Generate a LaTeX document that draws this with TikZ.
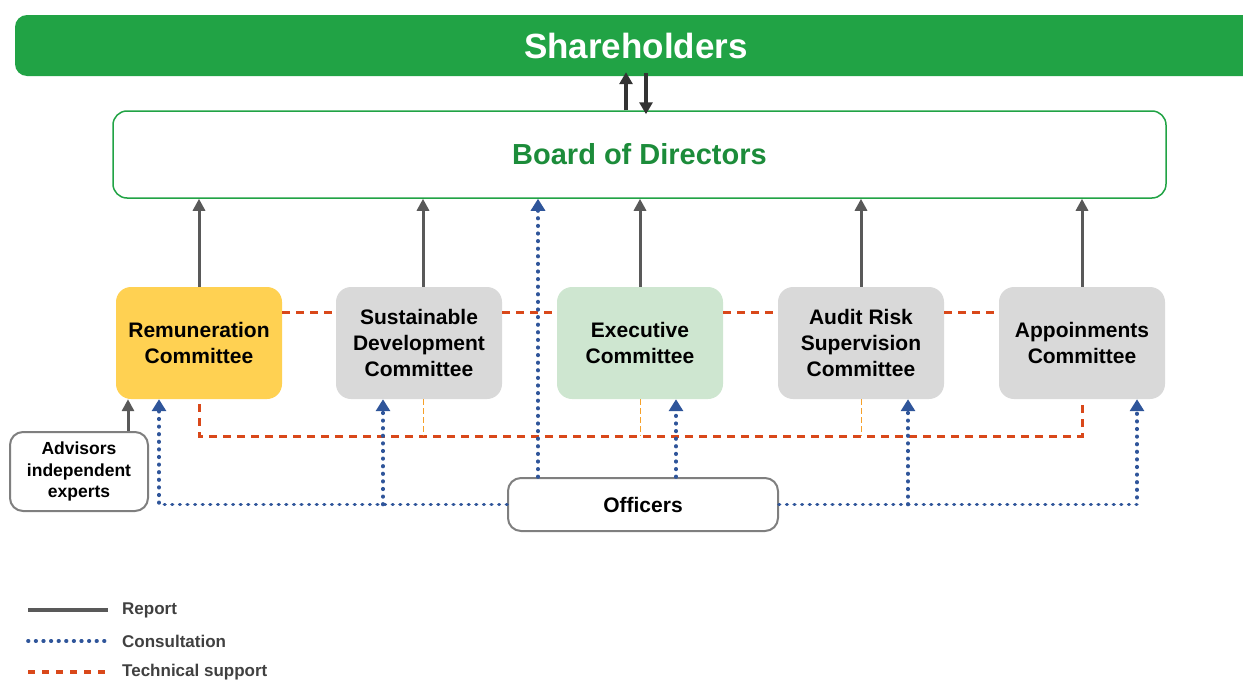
\documentclass[tikz,border=0pt]{standalone}
\usepackage{fontspec}
\setmainfont{Liberation Sans}
\usetikzlibrary{arrows.meta}

\definecolor{sharegreen}{RGB}{33,163,69}
\definecolor{boardtext}{RGB}{28,140,58}
\definecolor{remyellow}{RGB}{255,209,82}
\definecolor{commgray}{RGB}{217,217,217}
\definecolor{execgreen}{RGB}{206,230,208}
\definecolor{consultblue}{RGB}{47,85,154}
\definecolor{techorange}{RGB}{217,72,26}
\definecolor{lightorange}{RGB}{245,160,42}
\definecolor{reportgray}{RGB}{89,89,89}
\definecolor{boxgray}{RGB}{127,127,127}
\definecolor{legtext}{RGB}{64,64,64}

\begin{document}
\begin{tikzpicture}[x=1pt,y=-1pt]
    \tikzstyle{share}=[rounded corners=12pt, fill=sharegreen, text=white, minimum width=1242pt, minimum height=61pt, font=\fontsize{35}{40}\selectfont\bfseries]
    \tikzstyle{board}=[rounded corners=14pt, draw=sharegreen, line width=1.5pt, fill=white, text=boardtext, minimum width=1053pt, minimum height=87pt, font=\fontsize{29}{34}\selectfont\bfseries]
    \tikzstyle{comm}=[rounded corners=15pt, minimum width=166pt, minimum height=112pt, inner sep=0pt, align=center, font=\fontsize{21}{26}\selectfont\bfseries]
    \tikzstyle{person}=[rounded corners=13pt, draw=boxgray, line width=2pt, fill=white, inner sep=0pt, align=center]
    \tikzstyle{legend}=[anchor=west, inner sep=0pt, text=legtext, font=\fontsize{17}{20}\selectfont\bfseries]
    \tikzstyle{updown}=[draw=black!80, line width=4pt, shorten >=-4pt, -{Triangle[width=13pt,length=12pt]}]
    \tikzstyle{report}=[draw=reportgray, line width=3pt, -{Triangle[width=12pt,length=12pt]}]
    \tikzstyle{dots}=[draw=consultblue, line width=3.6pt, line cap=round, dash pattern=on 0.6pt off 7pt]
    \tikzstyle{consult}=[dots, -{Triangle[width=14pt,length=12pt]}]
    \tikzstyle{tech}=[draw=techorange, line width=3pt, dash pattern=on 8pt off 6pt]
    \tikzstyle{techthin}=[draw=lightorange, line width=1pt, dash pattern=on 6pt off 3pt]

    \useasboundingbox (0,0) rectangle (1243,680);

    % top levels
    \node[share] (share) at (636,45.5) {Shareholders};
    \node[board] (board) at (639.5,154.5) {Board of Directors};

    % committees
    \node[comm, fill=remyellow] (remun) at (199,343) {Remuneration\\Committee};
    \node[comm, fill=commgray] (sustain) at (419,343) {Sustainable\\Development\\Committee};
    \node[comm, fill=execgreen] (exec) at (640,343) {Executive\\Committee};
    \node[comm, fill=commgray] (audit) at (861,343) {Audit Risk\\Supervision\\Committee};
    \node[comm, fill=commgray] (appoint) at (1082,343) {Appoinments\\Committee};

    \node[person, minimum width=270pt, minimum height=53pt, font=\fontsize{21}{26}\selectfont\bfseries] (officers) at (643,504.5) {Officers};
    \node[person, minimum width=138pt, minimum height=79pt, font=\fontsize{17.5}{21.5}\selectfont\bfseries] (advisors) at (79,471.5) {Advisors\\independent\\experts};

    % shareholders <-> board
    \coordinate (up) at ([xshift=-13.5pt]board.north);
    \coordinate (down) at ([xshift=6.5pt]board.north);
    \draw[updown] (up) -- (up |- share.south);
    \draw[updown] ([yshift=3pt]down |- share.south) -- (down);

    % reports
    \coordinate (sdtap) at ([xshift=4pt]sustain.north);
    \draw[report] (remun.north) -- (remun.north |- board.south);
    \draw[report] (sdtap) -- (sdtap |- board.south);
    \draw[report] (exec.north) -- (exec.north |- board.south);
    \draw[report] (audit.north) -- (audit.north |- board.south);
    \draw[report] (appoint.north) -- (appoint.north |- board.south);
    \draw[report] ([xshift=49pt]advisors.north) -- ([xshift=-71pt]remun.south);

    % technical support
    \draw[tech] ([yshift=31pt]remun.east) -- ([yshift=31pt]sustain.west);
    \draw[tech] ([yshift=31pt]sustain.east) -- ([yshift=31pt]exec.west);
    \draw[tech] ([yshift=31pt]exec.east) -- ([yshift=31pt]audit.west);
    \draw[tech] ([yshift=31pt]audit.east) -- ([yshift=31pt]appoint.west);
    \draw[tech] ([yshift=-5pt]remun.south) -- ++(0,32) -| ([yshift=-5pt]appoint.south);
    \draw[techthin] ([xshift=4pt]sustain.south) -- ++(0,37);
    \draw[techthin] (exec.south) -- ++(0,37);
    \draw[techthin] (audit.south) -- ++(0,37);

    % consultation
    \coordinate (sdcon) at ([xshift=-36pt]sustain.south);
    \coordinate (excon) at ([xshift=36pt]exec.south);
    \coordinate (aucon) at ([xshift=47pt]audit.south);
    \coordinate (bdcon) at ([xshift=-105pt]officers.north);
    \draw[consult] (officers.west) -| ([xshift=-40pt]remun.south);
    \draw[consult] (sdcon |- officers.west) -- (sdcon);
    \draw[consult] (bdcon) -- (bdcon |- board.south);
    \draw[consult] (excon |- officers.north) -- (excon);
    \draw[consult] (aucon |- officers.east) -- (aucon);
    \draw[consult] (officers.east) -| ([xshift=55pt]appoint.south);

    % legend
    \node[legend] (legrep) at (122,610) {Report};
    \node[legend] (legcon) at (122,641) {Consultation};
    \node[legend] (legtech) at (122,672) {Technical support};
    \draw[reportgray, line width=4pt] ([xshift=-94pt]legrep.west) -- ([xshift=-14pt]legrep.west);
    \draw[dots] ([xshift=-94pt]legcon.west) -- ([xshift=-14pt]legcon.west);
    \draw[techorange, line width=4pt, dash pattern=on 7pt off 7pt] ([xshift=-94pt]legtech.west) -- ([xshift=-14pt]legtech.west);
  \end{tikzpicture}
\end{document}
